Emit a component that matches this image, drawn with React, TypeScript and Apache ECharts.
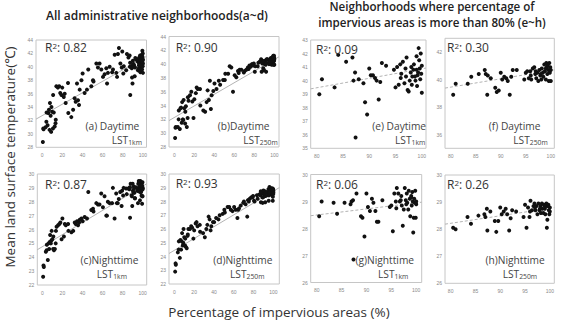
import React, { useEffect, useRef } from "react";
import * as echarts from "echarts";

// Neighborhoods whose impervious cover exceeds 80 % (panels e–h, and part of a–d)
const coreImpervious = [
  80.5, 81.0, 83.4, 84.1, 85.6, 86.8, 87.0, 87.3, 87.4, 88.0,
  88.9, 89.2, 89.6, 90.0, 90.3, 90.7, 91.1, 91.4, 91.8, 92.1,
  92.4, 93.2, 94.7, 95.0, 95.3, 95.6, 95.9, 96.1, 96.4, 96.7,
  96.9, 97.1, 97.3, 97.5, 97.7, 97.9, 98.1, 98.2, 98.4, 98.5,
  98.7, 98.8, 99.0, 99.1, 99.2, 99.3, 99.4, 99.5, 99.6, 99.7,
  99.8, 99.9, 100.0, 100.0, 97.0, 98.0, 99.0, 96.0,
];
const coreDay1km = [
  39.0, 40.1, 39.5, 41.9, 41.4, 41.7, 40.0, 40.6, 35.8, 40.1,
  39.8, 38.4, 37.5, 40.9, 40.4, 40.4, 40.2, 40.0, 38.6, 39.9,
  41.3, 41.1, 40.8, 39.5, 41.0, 39.7, 41.2, 40.5, 41.4, 39.8,
  40.9, 41.7, 39.3, 39.2, 40.0, 40.6, 39.7, 40.3, 40.8, 41.2,
  40.3, 40.0, 41.8, 39.6, 40.4, 40.6, 42.4, 41.5, 40.9, 40.1,
  42.0, 40.5, 41.1, 39.1, 40.3, 41.0, 40.8, 40.2,
];
const coreDay250m = [
  38.9, 39.7, 39.7, 40.2, 40.4, 40.7, 40.4, 38.9, 40.3, 40.1,
  39.4, 39.1, 39.2, 40.5, 40.0, 40.2, 40.1, 39.9, 38.9, 40.2,
  40.7, 40.7, 40.0, 40.5, 40.6, 40.1, 40.6, 40.0, 40.8, 40.9,
  40.4, 40.1, 40.5, 39.9, 40.7, 40.3, 40.0, 40.8, 40.5, 40.2,
  41.1, 40.6, 40.0, 41.2, 40.9, 40.4, 41.0, 40.7, 39.9, 41.2,
  40.5, 40.9, 40.7, 39.9, 40.6, 40.4, 40.8, 40.3,
];
const coreNight1km = [
  28.45, 29.0, 28.95, 28.55, 28.95, 28.9, 29.0, 29.05, 26.85, 29.3,
  28.45, 28.4, 27.7, 29.3, 28.8, 28.65, 29.1, 28.95, 28.65, 28.25,
  28.25, 29.05, 28.8, 28.85, 27.9, 29.3, 29.0, 29.5, 29.3, 29.0,
  29.05, 28.85, 28.1, 28.7, 29.5, 29.05, 29.3, 28.95, 28.7, 29.4,
  29.1, 28.45, 29.2, 28.85, 29.35, 29.0, 27.85, 28.4, 29.1, 28.95,
  29.4, 28.4, 29.0, 28.9, 29.2, 28.9, 29.15, 28.75,
];
const coreNight250m = [
  28.05, 28.0, 28.45, 28.2, 28.5, 28.55, 28.45, 28.75, 27.95, 28.65,
  28.3, 27.9, 28.3, 28.8, 28.55, 28.65, 28.75, 28.55, 27.95, 28.4,
  28.7, 28.65, 28.45, 28.9, 28.05, 28.8, 28.45, 29.05, 28.7, 28.85,
  28.95, 28.7, 28.85, 28.55, 28.95, 28.7, 28.85, 28.6, 28.95, 28.75,
  28.6, 28.9, 28.75, 28.55, 28.85, 28.95, 28.05, 28.35, 28.85, 28.9,
  28.7, 28.55, 28.8, 28.65, 28.8, 28.75, 28.85, 28.65,
];

// Remaining neighborhoods (impervious cover up to 80 %)
const otherImpervious = [
  0.8, 1.2, 1.5, 3.5, 4.3, 4.5, 5.5, 6.2, 6.8, 7.4,
  7.8, 8.5, 9.0, 9.3, 10.0, 10.8, 11.0, 11.6, 12.5, 13.3,
  13.6, 14.2, 15.7, 17.0, 18.0, 19.2, 20.0, 21.5, 22.4, 23.4,
  25.7, 26.0, 29.0, 30.8, 32.3, 33.3, 34.6, 35.6, 36.6, 37.3,
  39.0, 40.2, 42.2, 44.5, 45.8, 48.8, 50.5, 51.0, 53.8, 55.4,
  57.0, 58.7, 60.4, 62.0, 63.7, 64.4, 65.3, 67.0, 69.5, 70.3,
  72.0, 73.6, 74.3, 75.2, 76.2, 77.6, 79.0, 79.5,
];
const otherDay1km = [
  28.8, 30.8, 30.7, 31.0, 31.8, 33.2, 31.3, 33.1, 33.6, 30.6,
  34.6, 32.7, 30.3, 34.0, 33.3, 30.8, 35.8, 33.2, 31.1, 31.6,
  32.1, 37.1, 36.9, 37.1, 36.1, 35.8, 36.9, 35.5, 36.0, 34.6,
  37.6, 33.1, 32.5, 33.6, 35.3, 34.8, 37.5, 35.0, 34.3, 36.6,
  38.0, 39.0, 36.1, 36.6, 39.6, 37.1, 38.0, 37.8, 40.5, 39.9,
  40.5, 39.6, 38.5, 38.9, 39.8, 37.5, 39.1, 40.0, 39.2, 39.6,
  41.8, 39.1, 38.5, 41.9, 42.8, 40.5, 39.9, 42.3,
];
const otherDay250m = [
  29.3, 30.8, 30.9, 30.9, 32.0, 33.3, 30.6, 33.6, 33.7, 31.5,
  34.5, 32.0, 31.9, 34.8, 33.6, 31.4, 33.1, 33.9, 30.9, 32.2,
  35.2, 34.7, 35.5, 36.0, 34.6, 32.2, 34.9, 35.8, 36.6, 36.4,
  36.4, 34.0, 33.3, 33.1, 34.5, 36.2, 34.8, 37.6, 33.5, 35.5,
  36.1, 37.2, 36.4, 37.6, 37.0, 37.7, 37.7, 38.6, 38.6, 39.7,
  39.5, 36.0, 38.4, 38.1, 39.0, 38.7, 39.2, 39.2, 38.8, 39.0,
  39.2, 39.5, 39.3, 39.8, 39.6, 40.0, 39.8, 40.1,
];
const otherNight1km = [
  22.6, 23.4, 23.3, 24.4, 24.5, 24.9, 23.8, 25.0, 24.6, 25.1,
  25.6, 25.0, 25.2, 25.9, 25.3, 24.6, 25.5, 24.5, 24.6, 25.0,
  25.9, 26.2, 26.3, 26.4, 26.5, 25.3, 26.8, 25.5, 26.4, 26.3,
  26.4, 25.9, 25.8, 25.9, 26.5, 26.4, 26.6, 26.3, 26.5, 26.7,
  26.8, 26.6, 26.9, 26.8, 28.7, 27.4, 27.5, 27.3, 27.9, 27.8,
  27.8, 28.6, 27.6, 28.4, 27.0, 27.0, 28.0, 27.9, 27.9, 29.0,
  26.8, 28.6, 27.9, 27.9, 28.2, 28.7, 27.7, 28.8,
];
const otherNight250m = [
  22.9, 23.5, 23.4, 24.3, 24.5, 25.1, 23.9, 25.2, 24.5, 25.1,
  25.7, 24.8, 25.0, 26.0, 25.4, 24.8, 25.3, 24.7, 24.6, 25.5,
  25.6, 26.0, 26.0, 26.2, 26.1, 25.3, 25.9, 26.4, 26.5, 26.2,
  26.3, 25.8, 25.7, 25.4, 26.0, 26.3, 26.9, 26.7, 25.9, 26.2,
  26.5, 26.5, 26.8, 26.7, 27.0, 27.1, 27.4, 27.2, 27.6, 27.6,
  27.4, 27.3, 27.6, 27.4, 26.8, 27.4, 27.5, 27.7, 27.9, 28.0,
  27.8, 26.9, 28.1, 28.0, 28.2, 28.3, 28.3, 28.4,
];

// Axis tick values
const pctTicksAll = [0, 20, 40, 60, 80, 100];
const pctTicksCore = [80, 85, 90, 95, 100];
const dayTicksAll = [28, 30, 32, 34, 36, 38, 40, 42, 44];
const nightTicksAll = [22, 23, 24, 25, 26, 27, 28, 29, 30];
const dayTicksCore1km = [35, 36, 37, 38, 39, 40, 41, 42, 43];
const dayTicksCore250m = [36, 38, 40, 42];
const nightTicksCore = [26, 27, 28, 29, 30];

// Linear fits (LST = intercept + slope × impervious %) and their R²
const fitIntercept = [32.71, 32.27, 24.76, 24.45, 33.87, 34.6, 26.7, 26.0];
const fitSlope = [0.0855, 0.084, 0.0436, 0.043, 0.07, 0.0606, 0.0225, 0.0277];
const rSquared = ["0.82", "0.90", "0.87", "0.93", "0.09", "0.30", "0.06", "0.26"];

const panelTags = [
  "(a) Daytime", "(b)Daytime", "(c)Nighttime", "(d)Nighttime",
  "(e) Daytime", "(f) Daytime", "(g)Nighttime", "(h)Nighttime",
];
const panelResolution = ["1km", "250m", "1km", "250m", "1km", "250m", "1km", "250m"];

const FONT = "'Open Sans', 'Noto Sans', sans-serif";
const TICK_FONT = "'Liberation Sans', Arial, sans-serif";

type Layout = {
  left: number; top: number; width: number; height: number;
  xMin: number; xMax: number; yMin: number; yMax: number;
  r: [number, number];      // R² label anchor (left, middle)
  tag: [number, number];    // caption first line (left, middle)
  indent: number;           // caption second line offset
};

const layouts: Layout[] = [
  { left: 36, top: 40, width: 110.5, height: 107.3, xMin: -6, xMax: 103.5, yMin: 28, yMax: 44, r: [45, 47.3], tag: [85.5, 125.5], indent: 26.2 },
  { left: 169, top: 36.5, width: 110, height: 110.5, xMin: -5.3, xMax: 104.7, yMin: 28, yMax: 44, r: [175.7, 47.3], tag: [217.8, 125.5], indent: 25.5 },
  { left: 37.3, top: 174, width: 109.4, height: 111, xMin: -5, xMax: 104, yMin: 22, yMax: 30, r: [45, 184], tag: [80.5, 259.5], indent: 16.2 },
  { left: 169, top: 174, width: 110.3, height: 110, xMin: -5.4, xMax: 106, yMin: 22, yMax: 30, r: [175.7, 183], tag: [213.2, 259.5], indent: 16.8 },
  { left: 310.7, top: 40, width: 115.3, height: 108.3, xMin: 78.86, xMax: 100.8, yMin: 35, yMax: 43, r: [316, 49], tag: [372.2, 126], indent: 22.8 },
  { left: 445, top: 38.3, width: 109.3, height: 110, xMin: 78.86, xMax: 100.7, yMin: 35, yMax: 43, r: [447, 47.3], tag: [488.8, 125.5], indent: 24.5 },
  { left: 310.7, top: 174.5, width: 111, height: 108, xMin: 78.8, xMax: 101.1, yMin: 26, yMax: 30, r: [316, 184], tag: [355.5, 260], indent: 22.5 },
  { left: 445, top: 175, width: 109.3, height: 108.3, xMin: 78.86, xMax: 100.9, yMin: 26, yMax: 30, r: [447, 184], tag: [485.5, 260], indent: 17.2 },
];

function pairs(xs: number[], ys: number[]): number[][] {
  return xs.map((x, i) => [x, ys[i]]);
}

export default function App() {
  const ref = useRef<HTMLDivElement>(null);

  useEffect(() => {
    if (!ref.current) return;
    const chart = echarts.init(ref.current, undefined, { renderer: "svg" });

    const allImpervious = otherImpervious.concat(coreImpervious);
    const panelPoints = [
      pairs(allImpervious, otherDay1km.concat(coreDay1km)),
      pairs(allImpervious, otherDay250m.concat(coreDay250m)),
      pairs(allImpervious, otherNight1km.concat(coreNight1km)),
      pairs(allImpervious, otherNight250m.concat(coreNight250m)),
      pairs(coreImpervious, coreDay1km),
      pairs(coreImpervious, coreDay250m),
      pairs(coreImpervious, coreNight1km),
      pairs(coreImpervious, coreNight250m),
    ];
    const xTicks = [pctTicksAll, pctTicksAll, pctTicksAll, pctTicksAll, pctTicksCore, pctTicksCore, pctTicksCore, pctTicksCore];
    const yTicks = [dayTicksAll, dayTicksAll, nightTicksAll, nightTicksAll, dayTicksCore1km, dayTicksCore250m, nightTicksCore, nightTicksCore];

    const grid = layouts.map((l) => ({
      left: l.left, top: l.top, width: l.width, height: l.height,
      show: true, borderColor: "#c6c6c6", borderWidth: 1, backgroundColor: "transparent",
      containLabel: false, outerBoundsMode: "none",
    }));

    const tickLabel = { fontSize: 5, color: "#8a8a8a", fontFamily: TICK_FONT };

    const xAxis = layouts.map((l, i) => ({
      type: "value", gridIndex: i, min: l.xMin, max: l.xMax,
      axisLine: { show: false }, axisTick: { show: false }, splitLine: { show: false },
      axisLabel: { ...tickLabel, margin: 5, customValues: xTicks[i], showMinLabel: true, showMaxLabel: true },
    }));
    const yAxis = layouts.map((l, i) => ({
      type: "value", gridIndex: i, min: l.yMin, max: l.yMax,
      axisLine: { show: false }, axisTick: { show: false }, splitLine: { show: false },
      axisLabel: { ...tickLabel, margin: 3, customValues: yTicks[i], showMinLabel: true, showMaxLabel: true },
    }));

    const series: any[] = [];
    layouts.forEach((l, i) => {
      const f = (x: number) => fitIntercept[i] + fitSlope[i] * x;
      series.push({
        type: "line", xAxisIndex: i, yAxisIndex: i, silent: true, symbol: "none", z: 1,
        data: [[l.xMin, f(l.xMin)], [l.xMax, f(l.xMax)]],
        lineStyle: { color: "#b3b3b3", width: 1, type: i >= 4 ? [3, 2] : "solid" },
      });
      series.push({
        type: "scatter", xAxisIndex: i, yAxisIndex: i, silent: true, z: 2,
        data: panelPoints[i], symbolSize: 4,
        itemStyle: { color: "#111111", opacity: 1 },
      });
    });

    const headerStyle = { font: `600 11.6px ${FONT}`, fill: "#222", textAlign: "center", textVerticalAlign: "middle" };
    const graphic: any[] = [
      { type: "text", x: 157, y: 15, style: { ...headerStyle, font: `600 12px ${FONT}`, text: "All administrative neighborhoods(a~d)" } },
      { type: "text", x: 432, y: 6.4, style: { ...headerStyle, text: "Neighborhoods where percentage of" } },
      { type: "text", x: 432, y: 22.4, style: { ...headerStyle, text: "impervious areas is more than 80% (e~h)" } },
      {
        type: "text", x: 10, y: 157, rotation: Math.PI / 2,
        style: { text: "Mean land surface temperature(℃)", font: `13.5px ${FONT}`, fill: "#333", textAlign: "center", textVerticalAlign: "middle" },
      },
      {
        type: "text", x: 279, y: 312,
        style: { text: "Percentage of impervious areas (%)", font: `13.5px ${FONT}`, fill: "#333", textAlign: "center", textVerticalAlign: "middle" },
      },
    ];

    layouts.forEach((l, i) => {
      graphic.push({
        type: "text", x: l.r[0], y: l.r[1], z: 10,
        style: {
          text: `{m|R}{s|2}{m|: ${rSquared[i]}}`,
          textAlign: "left", textVerticalAlign: "middle",
          rich: {
            m: { fontSize: 12, fontFamily: FONT, fill: "#333", verticalAlign: "bottom" },
            s: { fontSize: 8, fontFamily: FONT, fill: "#333", verticalAlign: "top" },
          },
        },
      });
      // caption line 1: "(x) Daytime / Nighttime"
      graphic.push({
        type: "text", x: l.tag[0], y: l.tag[1], z: 10,
        style: { text: panelTags[i], font: `10.2px ${FONT}`, fill: "#444", textAlign: "left", textVerticalAlign: "middle" },
      });
      // caption line 2: "LST" with the resolution as subscript
      graphic.push({
        type: "text", x: l.tag[0] + l.indent, y: l.tag[1] + 14 - 5, z: 10,
        style: {
          text: `{m|LST}{s|${panelResolution[i]}}`,
          textAlign: "left", textVerticalAlign: "top",
          rich: {
            m: { fontSize: 10.2, lineHeight: 10, fontFamily: FONT, fill: "#444", verticalAlign: "top" },
            s: { fontSize: 6.8, lineHeight: 15, fontFamily: FONT, fill: "#444" },
          },
        },
      });
    });

    chart.setOption({
      animation: false,
      backgroundColor: "#ffffff",
      grid, xAxis, yAxis, series, graphic,
    });

    return () => chart.dispose();
  }, []);

  return (
    <div
      ref={ref}
      style={{ position: "fixed", left: 0, top: 0, width: 582, height: 322, background: "#fff" }}
    />
  );
}
